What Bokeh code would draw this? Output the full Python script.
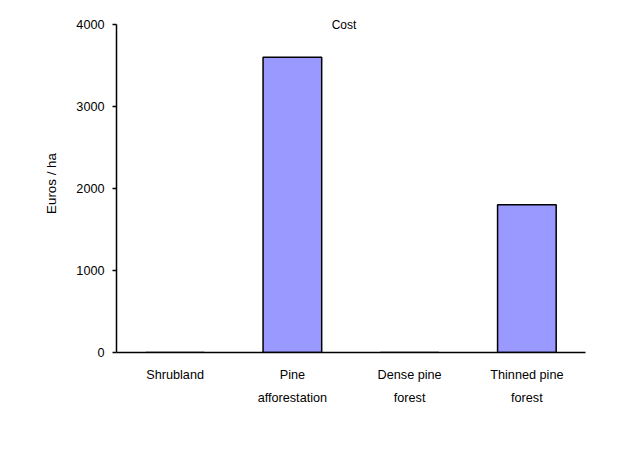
from bokeh.plotting import figure
from bokeh.models import Range1d, ColumnDataSource, Label, FixedTicker
from bokeh.embed import file_html
from bokeh.resources import INLINE

categories = ["Shrubland", "Pine\nafforestation", "Dense pine\nforest", "Thinned pine\nforest"]
cost_values = [0, 3600, 0, 1800]
y_ticks = [0, 1000, 2000, 3000, 4000]

FONT = "Liberation Sans"

p = figure(x_range=categories, y_range=Range1d(0, 4120),
           width=620, height=464, output_backend="svg", toolbar_location=None,
           min_border_left=116, min_border_right=35, min_border_top=14, min_border_bottom=112)
p.outline_line_color = None
p.background_fill_color = "white"
p.border_fill_color = "white"
p.xgrid.grid_line_color = None
p.ygrid.grid_line_color = None

src = ColumnDataSource(dict(cat=categories, val=cost_values))
p.vbar(x="cat", top="val", width=0.5, source=src, fill_color="#9999FF",
       line_color="black", line_width=1.5)

p.yaxis.ticker = FixedTicker(ticks=y_ticks)
p.yaxis.bounds = (0, 4000)
p.yaxis.minor_tick_line_color = None
p.yaxis.major_tick_in = 0
p.yaxis.major_tick_out = 4
p.yaxis.axis_line_width = 1.5
p.yaxis.major_tick_line_width = 1.5
p.yaxis.major_label_text_font = FONT
p.yaxis.major_label_text_font_size = "9.5pt"
p.yaxis.major_label_text_color = "black"
p.yaxis.major_label_standoff = 8
p.yaxis.axis_label = "Euros / ha"
p.yaxis.axis_label_text_font = FONT
p.yaxis.axis_label_text_font_size = "10pt"
p.yaxis.axis_label_text_color = "black"
p.yaxis.axis_label_text_font_style = "normal"
p.yaxis.axis_label_standoff = 14

p.xaxis.major_tick_line_color = None
p.xaxis.minor_tick_line_color = None
p.xaxis.axis_line_width = 1.5
p.xaxis.major_label_text_font = FONT
p.xaxis.major_label_text_font_size = "9.5pt"
p.xaxis.major_label_text_color = "black"
p.xaxis.major_label_text_line_height = 1.65
p.xaxis.major_label_standoff = 9

title = Label(x=2.0, y=4000, text="Cost", text_align="center", text_baseline="middle",
              x_offset=-7, y_offset=-1, text_font=FONT, text_font_size="9pt",
              text_color="black")
p.add_layout(title)

open("out.html", "w").write(file_html(p, INLINE))
